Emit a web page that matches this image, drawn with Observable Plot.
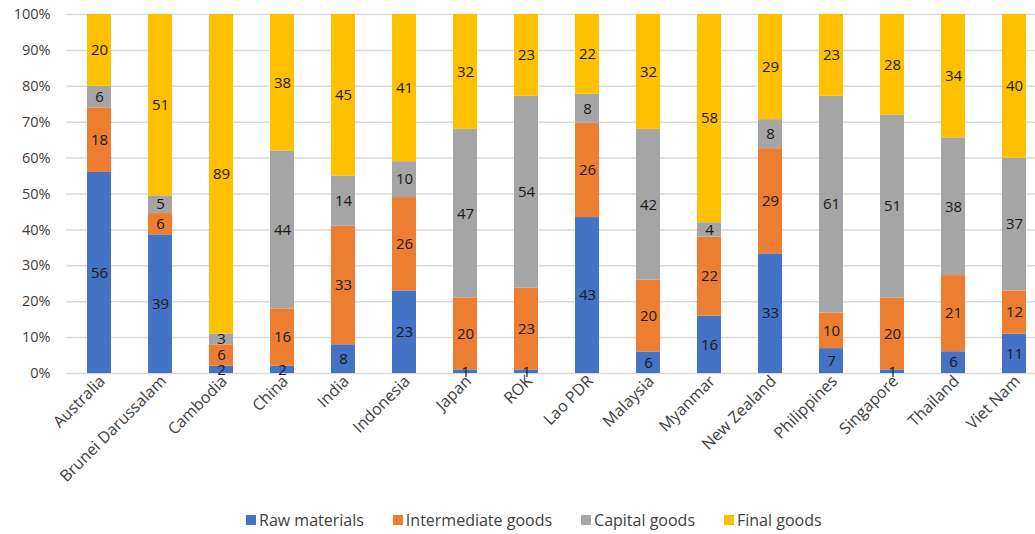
<!DOCTYPE html>
<html>
<head>
<meta charset="utf-8">
<script src="https://cdn.jsdelivr.net/npm/d3@7"></script>
<script src="https://cdn.jsdelivr.net/npm/@observablehq/plot@0.6"></script>
<style>
  html, body { margin: 0; padding: 0; background: #fff; overflow: hidden; }
  body { width: 1035px; height: 534px; font-family: "Open Sans", sans-serif; color: #404040; }
  #legend { display: flex; justify-content: flex-start; align-items: center; height: 24px;
    padding-left: 246px; font-size: 16px; color: #404040; }
  #legend .item { display: flex; align-items: center; margin-right: 29px; }
  #legend .sw { width: 10px; height: 10px; margin-right: 3px; }
</style>
</head>
<body>
<div id="chart"></div>
<div id="legend"></div>
<script>
const countries = ["Australia","Brunei Darussalam","Cambodia","China","India","Indonesia","Japan","ROK","Lao PDR","Malaysia","Myanmar","New Zealand","Philippines","Singapore","Thailand","Viet Nam"];
const categories = ["Raw materials","Intermediate goods","Capital goods","Final goods"];
const rawMaterials      = [56,39, 2, 2, 8,23, 1, 1,43, 6,16,33, 7, 1, 6,11];
const intermediateGoods = [18, 6, 6,16,33,26,20,23,26,20,22,29,10,20,21,12];
const capitalGoods      = [ 6, 5, 3,44,14,10,47,54, 8,42, 4, 8,61,51,38,37];
const finalGoods        = [20,51,89,38,45,41,32,23,22,32,58,29,23,28,34,40];
const yTicks = [0,0.1,0.2,0.3,0.4,0.5,0.6,0.7,0.8,0.9,1];
const colors = ["#4472C4","#ED7D31","#A5A5A5","#FFC000"];

const series = [rawMaterials, intermediateGoods, capitalGoods, finalGoods];
const data = [];
countries.forEach((c, i) => {
  categories.forEach((cat, j) => data.push({country: c, category: cat, value: series[j][i]}));
});

const stackOpts = {x: "country", y: "value", z: "category", order: categories, offset: "normalize"};

const plot = Plot.plot({
  width: 1035,
  height: 508,
  marginTop: 14,
  marginBottom: 135,
  marginLeft: 66,
  marginRight: 0,
  style: {fontFamily: "Open Sans, sans-serif", fontSize: "14px", color: "#404040", background: "#fff"},
  x: {domain: countries, range: [66, 1048], paddingInner: 0.6, paddingOuter: 0.3, label: null},
  y: {domain: [0, 1], label: null},
  color: {domain: categories, range: colors},
  marks: [
    Plot.ruleY(yTicks, {stroke: "#d9d9d9", strokeWidth: 1.5}),
    Plot.axisY({ticks: yTicks, tickFormat: d3.format(".0%"), tickSize: 0, tickPadding: 16, label: null, fontSize: 14.5}),
    Plot.axisX({tickRotate: -45, tickSize: 0, tickPadding: 5, label: null, fontSize: 16, dx: 3}),
    Plot.barY(data, Plot.stackY({...stackOpts, fill: "category", inset: 0})),
    Plot.text(data, Plot.stackY({...stackOpts, text: d => String(d.value), fill: "#1a1a1a", fontSize: 15}))
  ]
});
document.getElementById("chart").appendChild(plot);

const legend = document.getElementById("legend");
categories.forEach((cat, j) => {
  const item = document.createElement("div");
  item.className = "item";
  const sw = document.createElement("div");
  sw.className = "sw";
  sw.style.background = colors[j];
  const label = document.createElement("span");
  label.textContent = cat;
  item.appendChild(sw);
  item.appendChild(label);
  legend.appendChild(item);
});
</script>
</body>
</html>
